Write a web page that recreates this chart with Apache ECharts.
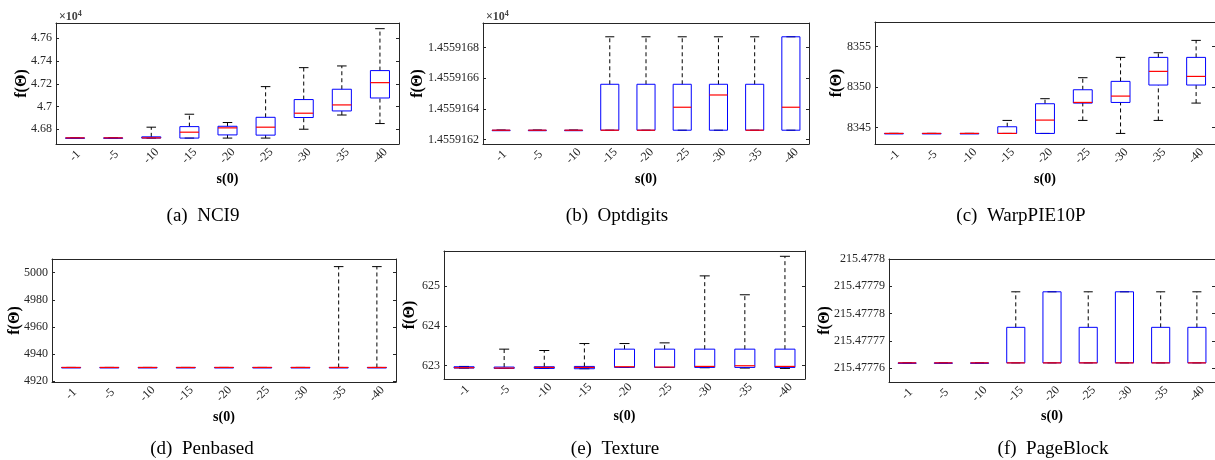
<!DOCTYPE html>
<html>
<head>
<meta charset="utf-8">
<script src="https://cdn.jsdelivr.net/npm/echarts@6/dist/echarts.min.js"></script>
<style>
  html, body { margin: 0; padding: 0; background: #fff; }
  #main { width: 1215px; height: 460px; }
</style>
</head>
<body>
<div id="main"></div>
<script>
// categories on the x axis
const categories = ['-1', '-5', '-10', '-15', '-20', '-25', '-30', '-35', '-40'];

// each row: [low whisker, q1, median, q3, high whisker]
const nci9 = [
  [4.6724, 4.6724, 4.6724, 4.6724, 4.6724],
  [4.6724, 4.6724, 4.6724, 4.6724, 4.6724],
  [4.6722, 4.6722, 4.6724, 4.6733, 4.6818],
  [4.6722, 4.6722, 4.6774, 4.6823, 4.6932],
  [4.6722, 4.6750, 4.6812, 4.6826, 4.6859],
  [4.6722, 4.6748, 4.6818, 4.6905, 4.7175],
  [4.6800, 4.6903, 4.6941, 4.7061, 4.7342],
  [4.6925, 4.6961, 4.7014, 4.7152, 4.7357],
  [4.6850, 4.7075, 4.7210, 4.7316, 4.7685]
];
const optdigits = [
  [1.45591626, 1.45591626, 1.45591626, 1.45591626, 1.45591626],
  [1.45591626, 1.45591626, 1.45591626, 1.45591626, 1.45591626],
  [1.45591626, 1.45591626, 1.45591626, 1.45591626, 1.45591626],
  [1.45591626, 1.45591626, 1.45591626, 1.45591656, 1.45591687],
  [1.45591626, 1.45591626, 1.45591626, 1.45591656, 1.45591687],
  [1.45591626, 1.45591626, 1.45591641, 1.45591656, 1.45591687],
  [1.45591626, 1.45591626, 1.45591649, 1.45591656, 1.45591687],
  [1.45591626, 1.45591626, 1.45591626, 1.45591656, 1.45591687],
  [1.45591626, 1.45591626, 1.45591641, 1.45591687, 1.45591687]
];
const warpPIE = [
  [8344.3, 8344.3, 8344.3, 8344.3, 8344.3],
  [8344.3, 8344.3, 8344.3, 8344.3, 8344.3],
  [8344.3, 8344.3, 8344.3, 8344.3, 8344.3],
  [8344.3, 8344.3, 8344.3, 8345.12, 8345.9],
  [8344.3, 8344.3, 8345.94, 8347.95, 8348.57],
  [8345.9, 8348.03, 8348.11, 8349.67, 8351.15],
  [8344.3, 8348.11, 8348.89, 8350.70, 8353.65],
  [8345.9, 8350.25, 8351.93, 8353.65, 8354.22],
  [8348.03, 8350.25, 8351.31, 8353.65, 8355.74]
];
const penbased = [
  [4930.2, 4930.2, 4930.2, 4930.2, 4930.2],
  [4930.2, 4930.2, 4930.2, 4930.2, 4930.2],
  [4930.2, 4930.2, 4930.2, 4930.2, 4930.2],
  [4930.2, 4930.2, 4930.2, 4930.2, 4930.2],
  [4930.2, 4930.2, 4930.2, 4930.2, 4930.2],
  [4930.2, 4930.2, 4930.2, 4930.2, 4930.2],
  [4930.2, 4930.2, 4930.2, 4930.2, 4930.2],
  [4930.2, 4930.2, 4930.2, 4930.2, 5004.4],
  [4930.2, 4930.2, 4930.2, 4930.2, 5004.4]
];
const texture = [
  [622.940, 622.942, 622.950, 622.975, 622.983],
  [622.933, 622.933, 622.942, 622.967, 623.417],
  [622.933, 622.933, 622.958, 622.975, 623.383],
  [622.925, 622.925, 622.958, 622.983, 623.558],
  [622.958, 622.958, 622.975, 623.417, 623.558],
  [622.958, 622.958, 622.967, 623.417, 623.575],
  [622.950, 622.958, 622.983, 623.417, 625.258],
  [622.942, 622.958, 623.000, 623.417, 624.783],
  [622.933, 622.958, 622.983, 623.417, 625.750]
];
const pageBlock = [
  [215.477762, 215.477762, 215.477762, 215.477762, 215.477762],
  [215.477762, 215.477762, 215.477762, 215.477762, 215.477762],
  [215.477762, 215.477762, 215.477762, 215.477762, 215.477762],
  [215.477762, 215.477762, 215.477762, 215.477775, 215.477788],
  [215.477762, 215.477762, 215.477762, 215.477788, 215.477788],
  [215.477762, 215.477762, 215.477762, 215.477775, 215.477788],
  [215.477762, 215.477762, 215.477762, 215.477788, 215.477788],
  [215.477762, 215.477762, 215.477762, 215.477775, 215.477788],
  [215.477762, 215.477762, 215.477762, 215.477775, 215.477788]
];

// y tick labels
const nci9Ticks = ['4.68', '4.7', '4.72', '4.74', '4.76'];
const optdigitsTicks = ['1.4559162', '1.4559164', '1.4559166', '1.4559168'];
const warpTicks = ['8345', '8350', '8355'];
const penTicks = ['4920', '4940', '4960', '4980', '5000'];
const textureTicks = ['623', '624', '625'];
const pageTicks = ['215.47776', '215.47777', '215.47778', '215.47779', '215.4778'];

const captions = ['(a)  NCI9', '(b)  Optdigits', '(c)  WarpPIE10P', '(d)  Penbased', '(e)  Texture', '(f)  PageBlock'];

const panels = [
  { data: nci9, ticks: nci9Ticks, min: 4.667, max: 4.7735, grid: { left: 56, top: 23, width: 343, height: 121 }, yGap: 26, xGap: 28, cap: [198, 213], exp: true },
  { data: optdigits, ticks: optdigitsTicks, min: 1.45591617, max: 1.45591696, grid: { left: 483, top: 23, width: 326, height: 121 }, yGap: 57, xGap: 28, cap: [612, 213], exp: true },
  { data: warpPIE, ticks: warpTicks, min: 8343, max: 8358, grid: { left: 875, top: 22, width: 343, height: 122 }, yGap: 30, xGap: 28, cap: [1016, 213] },
  { data: penbased, ticks: penTicks, min: 4919.5, max: 5010, grid: { left: 52, top: 259, width: 344, height: 123 }, yGap: 29, xGap: 28, cap: [197, 446] },
  { data: texture, ticks: textureTicks, min: 622.667, max: 625.883, grid: { left: 444, top: 251, width: 361, height: 128 }, yGap: 26, xGap: 30, cap: [610, 446] },
  { data: pageBlock, ticks: pageTicks, min: 215.477755, max: 215.4778, grid: { left: 889, top: 259, width: 326, height: 123 }, yGap: 56, xGap: 27, cap: [1048, 446] }
];

const axisColor = '#262626';
const serif = 'Liberation Serif';

function renderBox(params, api) {
  const i = api.value(0);
  const pt = k => api.coord([i, api.value(k)]);
  const x = pt(1)[0];
  const yLow = pt(1)[1], yQ1 = pt(2)[1], yMed = pt(3)[1], yQ3 = pt(4)[1], yHigh = pt(5)[1];
  const half = api.size([1, 0])[0] * 0.25;
  const cap = half * 0.5;
  const dash = { stroke: '#000', lineWidth: 1, lineDash: [4, 3] };
  const solid = { stroke: '#000', lineWidth: 1 };
  return {
    type: 'group',
    children: [
      { type: 'line', shape: { x1: x, y1: yLow, x2: x, y2: yQ1 }, style: dash },
      { type: 'line', shape: { x1: x, y1: yQ3, x2: x, y2: yHigh }, style: dash },
      { type: 'line', shape: { x1: x - cap, y1: yLow, x2: x + cap, y2: yLow }, style: solid },
      { type: 'line', shape: { x1: x - cap, y1: yHigh, x2: x + cap, y2: yHigh }, style: solid },
      { type: 'rect', shape: { x: x - half, y: yQ3, width: half * 2, height: Math.max(yQ1 - yQ3, 0.5) },
        style: { fill: 'none', stroke: '#0000ff', lineWidth: 1 } },
      { type: 'line', shape: { x1: x - half, y1: yMed, x2: x + half, y2: yMed },
        style: { stroke: '#ff0000', lineWidth: 1.2 } }
    ]
  };
}

const grid = [], xAxis = [], yAxis = [], series = [], title = [];

panels.forEach((p, n) => {
  grid.push(Object.assign({ containLabel: false, show: false }, p.grid));
  const tickVals = p.ticks.map(Number);
  const fmt = v => {
    const hit = p.ticks.find(t => Math.abs(Number(t) - v) < 1e-9);
    return hit || '';
  };
  // bottom category axis
  xAxis.push({
    type: 'category', gridIndex: n, data: categories, position: 'bottom',
    name: 's(0)', nameLocation: 'middle', nameGap: p.xGap, nameMoveOverlap: false,
    nameTextStyle: { fontFamily: serif, fontWeight: 'bold', fontSize: 14, color: '#000' },
    axisLine: { lineStyle: { color: axisColor, width: 1 } },
    axisTick: { inside: true, length: 3, alignWithLabel: true, lineStyle: { color: axisColor } },
    axisLabel: { interval: 0, rotate: 45, align: 'center', verticalAlign: 'middle', margin: 12,
      fontFamily: serif, fontSize: 12, color: axisColor },
    splitLine: { show: false }
  });
  // top mirror axis
  xAxis.push({
    type: 'category', gridIndex: n, data: categories, position: 'top',
    axisLine: { lineStyle: { color: axisColor, width: 1 } },
    axisTick: { inside: true, length: 3, alignWithLabel: true, lineStyle: { color: axisColor } },
    axisLabel: { show: false }, splitLine: { show: false }
  });
  yAxis.push({
    type: 'value', gridIndex: n, position: 'left', min: p.min, max: p.max, scale: true,
    name: 'f(Θ)', nameLocation: 'middle', nameGap: p.yGap, nameRotate: 90, nameMoveOverlap: false,
    nameTextStyle: { fontFamily: serif, fontWeight: 'bold', fontSize: 16, color: '#000' },
    axisLine: { show: true, lineStyle: { color: axisColor, width: 1 } },
    axisTick: { show: true, inside: true, length: 3, customValues: tickVals, lineStyle: { color: axisColor } },
    axisLabel: { customValues: tickVals, formatter: fmt, margin: 4, fontFamily: serif, fontSize: 12, color: axisColor },
    splitLine: { show: false }
  });
  yAxis.push({
    type: 'value', gridIndex: n, position: 'right', min: p.min, max: p.max, scale: true,
    axisLine: { show: true, lineStyle: { color: axisColor, width: 1 } },
    axisTick: { show: true, inside: true, length: 3, customValues: tickVals, lineStyle: { color: axisColor } },
    axisLabel: { show: false }, splitLine: { show: false }
  });
  series.push({
    type: 'custom', xAxisIndex: 2 * n, yAxisIndex: 2 * n,
    renderItem: renderBox, silent: true, animation: false,
    encode: { x: 0, y: [1, 2, 3, 4, 5] },
    data: p.data.map((row, i) => [i].concat(row))
  });
  title.push({
    text: captions[n], left: p.cap[0], top: p.cap[1] - 11, textAlign: 'center',
    textStyle: { fontFamily: serif, fontWeight: 'normal', fontSize: 19, color: '#000' }
  });
  if (p.exp) {
    title.push({
      text: '{a|×10}{b|4}', left: p.grid.left - 2, top: 5,
      textStyle: { rich: {
        a: { fontFamily: serif, fontSize: 12, color: '#444' },
        b: { fontFamily: serif, fontSize: 8, color: '#444', verticalAlign: 'top', padding: [0, 0, 6, 0] }
      } }
    });
  }
});

const chart = echarts.init(document.getElementById('main'));
chart.setOption({
  backgroundColor: '#ffffff',
  animation: false,
  title: title,
  grid: grid,
  xAxis: xAxis,
  yAxis: yAxis,
  series: series
});
</script>
</body>
</html>
